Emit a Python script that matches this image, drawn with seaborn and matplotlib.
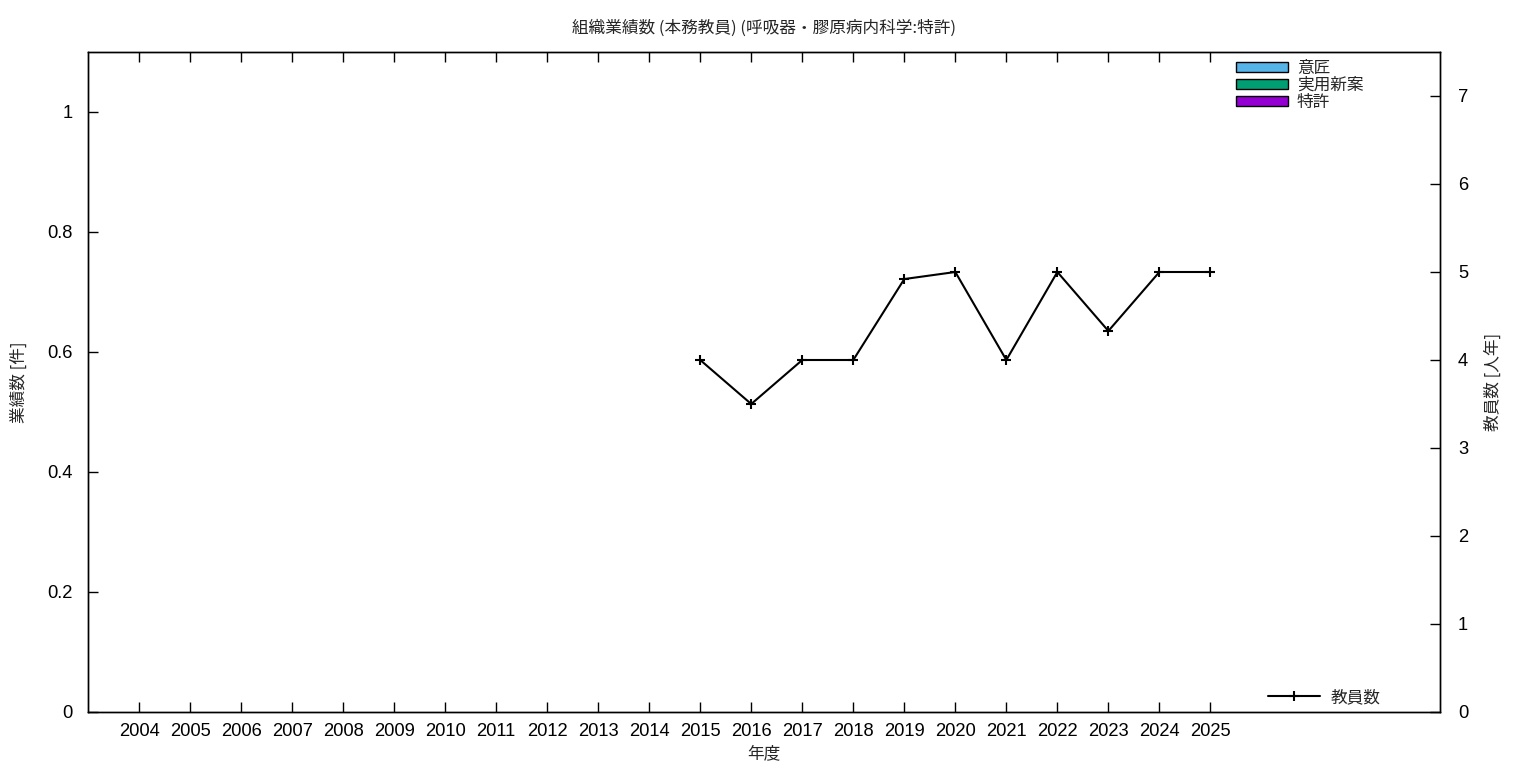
import matplotlib
matplotlib.use("Agg")
import matplotlib.pyplot as plt
import seaborn as sns
import numpy as np
import pandas as pd

sns.set_style("white")
plt.rcParams['font.family'] = ['Liberation Sans', 'Noto Sans CJK JP', 'DejaVu Sans']

years = list(range(2004, 2026))
design = [0] * len(years)       # 意匠
utility = [0] * len(years)      # 実用新案
patent = [0] * len(years)       # 特許
staff_years = list(range(2015, 2026))
staff = [4.0, 3.5, 4.0, 4.0, 4.92, 5.0, 4.0, 5.0, 4.33, 5.0, 5.0]

title = "組織業績数 (本務教員) (呼吸器・膠原病内科学:特許)"
bar_labels = ["意匠", "実用新案", "特許"]
bar_colors = ["#56B4E9", "#009E73", "#9400D3"]

jp = ['Noto Sans CJK JP', 'DejaVu Sans']
tick_fs = 13.2
txt_fs = 12

fig = plt.figure(figsize=(15.36, 7.68), dpi=100)
ax = fig.add_axes([88/1536, 1-712/768, (1440-88)/1536, (712-52)/768])
ax2 = ax.twinx()

bottom = np.zeros(len(years))
handles = []
for vals, lab, col in zip([design, utility, patent], bar_labels, bar_colors):
    h = ax.bar(years, vals, bottom=bottom, width=0.5, color=col,
               edgecolor="black", linewidth=1, label=lab)
    bottom = bottom + np.array(vals)
    handles.append(h)

df = pd.DataFrame({"year": staff_years, "staff": staff})
sns.lineplot(data=df, x="year", y="staff", ax=ax2, color="black",
             marker="+", markersize=7.5, markeredgewidth=1.5,
             markeredgecolor="black", markerfacecolor="black", linewidth=1.5,
             label="教員数")

ax.set_xlim(2003, 2029.5)
ax.set_ylim(0, 1.1)
ax2.set_ylim(0, 7.5)

ax.set_xticks(years)
ax.set_xticklabels([str(y) for y in years], fontsize=tick_fs)
yt = [0, 0.2, 0.4, 0.6, 0.8, 1.0]
ax.set_yticks(yt)
ax.set_yticklabels(["0", "0.2", "0.4", "0.6", "0.8", "1"], fontsize=tick_fs)
ax2.set_yticks(range(0, 8))
ax2.set_yticklabels([str(i) for i in range(0, 8)], fontsize=tick_fs)

ax.tick_params(axis='x', direction='in', length=7, width=1, top=True, bottom=True, pad=8, colors='black')
ax.tick_params(axis='y', direction='in', length=7, width=1, left=True, right=False, pad=11, colors='black')
ax2.tick_params(axis='y', direction='in', length=7, width=1, right=True, left=False, pad=13, colors='black')

for a in (ax, ax2):
    for s in a.spines.values():
        s.set_color("black")
        s.set_linewidth(1)

ax.set_xlabel("年度", fontsize=txt_fs, family=jp, labelpad=4)
ax.set_ylabel("業績数 [件]", fontsize=txt_fs, family=jp, labelpad=14)
ax2.set_ylabel("教員数 [人年]", fontsize=txt_fs, family=jp, rotation=90, labelpad=12)
ax.set_title(title, fontsize=txt_fs, family=jp, pad=14)

leg1 = ax.legend(handles=handles, labels=bar_labels, loc="upper left",
                 bbox_to_anchor=(1236/1536, 1-60/768), bbox_transform=fig.transFigure,
                 frameon=False, prop={'family': jp, 'size': txt_fs},
                 handlelength=3.1, handleheight=0.6, labelspacing=0.0,
                 handletextpad=0.55, borderpad=0, borderaxespad=0)
ax2.legend(loc="lower left", bbox_to_anchor=(1268/1536, 1-706/768),
           bbox_transform=fig.transFigure, frameon=False,
           prop={'family': jp, 'size': txt_fs}, handlelength=3.1,
           handletextpad=0.65, borderpad=0, borderaxespad=0)
# zero-height bars: hide their outlines in the plot (legend keeps its own copies)
for h in handles:
    for p in h.patches:
        p.set_linewidth(0)
ax.set_zorder(ax2.get_zorder() + 1)
ax.patch.set_visible(False)

fig.savefig("out.png", dpi=100)
